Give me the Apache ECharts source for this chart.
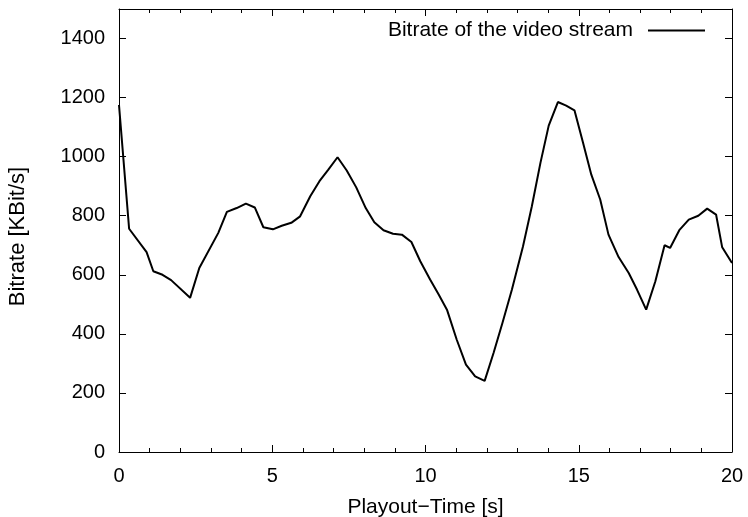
<!DOCTYPE html>
<html>
<head>
<meta charset="utf-8">
<script src="https://cdn.jsdelivr.net/npm/echarts@6/dist/echarts.min.js"></script>
<style>html,body{margin:0;padding:0;background:#fff}#c{width:748px;height:517px}</style>
</head>
<body>
<div id="c"></div>
<script>
var times = [0, 0.33, 0.9, 1.12, 1.42, 1.7, 2.32, 2.62, 3.24, 3.52, 3.84, 4.14, 4.43, 4.71, 5.02, 5.31, 5.62, 5.91, 6.24, 6.54, 6.83, 7.13, 7.43, 7.74, 8.05, 8.33, 8.63, 8.94, 9.23, 9.54, 9.83, 10.15, 10.43, 10.7, 11.02, 11.32, 11.62, 11.93, 12.22, 12.51, 12.82, 13.18, 13.47, 13.75, 14.02, 14.32, 14.59, 14.86, 15.14, 15.41, 15.7, 15.97, 16.3, 16.63, 16.9, 17.2, 17.5, 17.8, 17.98, 18.28, 18.59, 18.9, 19.19, 19.48, 19.68, 20.0];
var bitrate = [1175, 756, 677, 612, 600, 582, 522, 623, 742, 813, 826, 841, 828, 761, 754, 766, 776, 798, 866, 917, 956, 998, 953, 896, 826, 778, 751, 739, 736, 711, 646, 584, 533, 482, 380, 296, 256, 241, 335, 437, 550, 696, 832, 979, 1105, 1185, 1173, 1157, 1047, 939, 855, 736, 660, 606, 550, 482, 578, 700, 691, 751, 787, 800, 824, 804, 693, 640];
var seriesName = 'Bitrate of the video stream';
var xTicks = [0, 5, 10, 15, 20];
var yTicks = [0, 200, 400, 600, 800, 1000, 1200, 1400];

var data = times.map(function (t, i) { return [t, bitrate[i]]; });
var font = 'Liberation Sans, Arial, Helvetica, sans-serif';
var chart = echarts.init(document.getElementById('c'));
var axLine = { onZero: false, lineStyle: { color: '#000', width: 1 } };
var tick = { inside: true, length: 7, lineStyle: { color: '#000' } };
var minor = { show: true, splitNumber: 5, length: 4, lineStyle: { color: '#000' } };
chart.setOption({
  animation: false,
  backgroundColor: '#fff',
  grid: { left: 119, right: 16, top: 9, bottom: 65, containLabel: false, outerBoundsMode: 'none' },
  legend: {
    right: 38, top: 15, align: 'right', orient: 'horizontal',
    itemWidth: 57, itemHeight: 2, icon: 'rect',
    textStyle: { fontFamily: font, fontSize: 21, color: '#000', padding: [0, 10, 0, 0] },
    data: [{ name: seriesName, itemStyle: { color: '#000' } }]
  },
  xAxis: [{
    type: 'value', min: 0, max: 20, interval: 5,
    name: 'Playout\u2212Time [s]', nameLocation: 'middle', nameGap: 45,
    nameTextStyle: { fontFamily: font, fontSize: 21, color: '#000' },
    axisLine: axLine, axisTick: tick, minorTick: minor,
    axisLabel: { fontFamily: font, fontSize: 20, color: '#000', margin: 14,
      formatter: function (v) { return xTicks.indexOf(v) >= 0 ? String(v) : ''; } },
    splitLine: { show: false }
  }, {
    type: 'value', position: 'top', min: 0, max: 20, interval: 5,
    axisLine: axLine, axisTick: tick, minorTick: minor,
    axisLabel: { show: false }, splitLine: { show: false }
  }],
  yAxis: [{
    type: 'value', min: 0, max: 1500, interval: 200,
    name: 'Bitrate [KBit/s]', nameLocation: 'middle', nameGap: 90, nameRotate: 90,
    nameTextStyle: { fontFamily: font, fontSize: 22, color: '#000', padding: [0, 12, 0, 0] },
    axisLine: axLine, axisTick: tick,
    axisLabel: { fontFamily: font, fontSize: 20, color: '#000', margin: 14,
      formatter: function (v) { return yTicks.indexOf(v) >= 0 ? String(v) : ''; } },
    splitLine: { show: false }
  }, {
    type: 'value', position: 'right', min: 0, max: 1500, interval: 200,
    axisLine: axLine, axisTick: tick,
    axisLabel: { show: false }, splitLine: { show: false }
  }],
  series: [{
    name: seriesName, type: 'line', data: data, showSymbol: false, symbol: 'none',
    lineStyle: { color: '#000', width: 2 }, itemStyle: { color: '#000' },
    xAxisIndex: 0, yAxisIndex: 0
  }]
});
</script>
</body>
</html>
